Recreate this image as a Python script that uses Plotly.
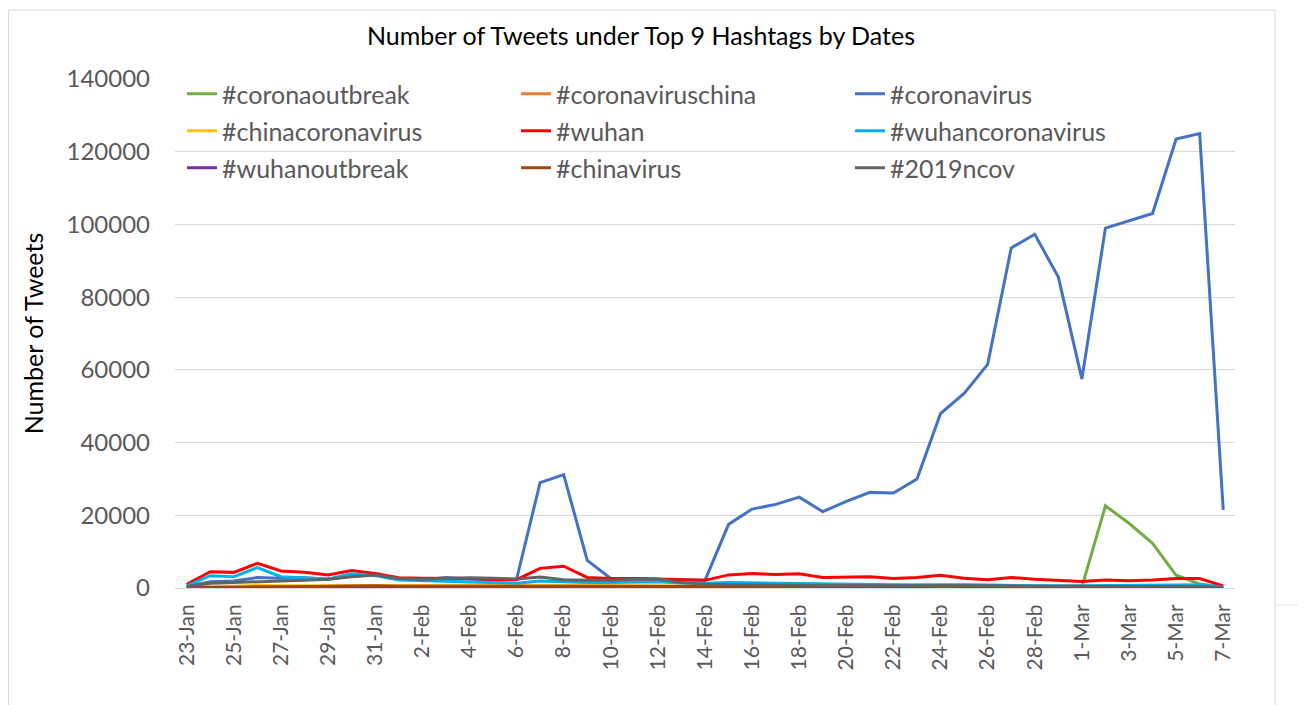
import pandas as pd
import plotly.graph_objects as go

# Dates (categories)
dates = pd.date_range("2020-01-23", "2020-03-07", freq="D")
date_labels = [f"{d.day}-{d.strftime('%b')}" for d in dates]

coronaoutbreak = [0, 0, 0, 0, 0, 0, 0, 0, 0, 0,
                  0, 0, 0, 0, 0, 0, 0, 0, 0, 0,
                  0, 0, 0, 0, 0, 0, 0, 0, 0, 0,
                  0, 0, 0, 0, 0, 0, 0, 0,
                  300, 22600, 17800, 12300, 3500, 1100, 300]
coronaviruschina = [100, 300, 300, 400, 300, 300, 200, 300, 300, 200,
                    200, 200, 200, 150, 150, 200, 200, 150, 150, 150,
                    150, 100, 100, 100, 100, 100, 100, 100, 100, 100,
                    100, 100, 100, 100, 100, 100, 100, 100, 100, 100,
                    100, 100, 100, 100, 50]
coronavirus = [400, 1700, 1900, 2900, 2700, 2800, 2400, 3300, 3600, 2400,
               2200, 2900, 2500, 2200, 2400, 29000, 31200, 7600, 2600, 2600,
               2400, 2300, 2100, 17500, 21700, 23000, 25000, 21000, 23800, 26300,
               26100, 30000, 48000, 53500, 61500, 93500, 97300, 85500, 57500, 99000,
               101000, 103000, 123500, 125000, 21500]
chinacoronavirus = [200, 500, 500, 700, 600, 600, 500, 700, 700, 600,
                    600, 700, 800, 800, 800, 900, 800, 700, 700, 600,
                    600, 500, 500, 400, 400, 400, 300, 300, 300, 300,
                    300, 300, 300, 300, 300, 200, 200, 200, 200, 200,
                    200, 200, 200, 200, 100]
wuhan = [1000, 4500, 4300, 6800, 4700, 4300, 3600, 4800, 4000, 2800,
         2700, 2700, 2600, 2300, 2300, 5400, 6000, 2900, 2600, 2600,
         2500, 2400, 2100, 3600, 4000, 3700, 3900, 2900, 3100, 3100,
         2600, 2900, 3500, 2700, 2300, 2900, 2400, 2000, 1800, 2200,
         2000, 2200, 2600, 2600, 600]
wuhancoronavirus = [600, 3400, 3100, 5600, 3100, 2700, 2500, 3900, 3400, 2200,
                    2000, 1900, 1700, 1300, 1300, 1900, 1600, 1500, 1500, 1600,
                    1700, 1400, 1300, 1500, 1400, 1200, 1100, 1100, 1000, 1000,
                    900, 900, 1000, 900, 800, 700, 700, 600, 600, 600,
                    600, 700, 800, 900, 300]
wuhanoutbreak = [100, 200, 200, 300, 300, 300, 300, 300, 300, 300,
                 300, 300, 300, 300, 300, 300, 300, 300, 300, 300,
                 300, 200, 200, 200, 200, 200, 200, 200, 200, 200,
                 200, 200, 200, 200, 200, 200, 200, 200, 200, 200,
                 200, 200, 200, 200, 100]
chinavirus = [0, 100, 100, 200, 300, 400, 500, 600, 600, 500,
              500, 500, 500, 500, 500, 500, 500, 400, 400, 400,
              400, 400, 400, 400, 400, 400, 300, 300, 300, 300,
              300, 300, 300, 300, 300, 300, 300, 300, 300, 300,
              300, 300, 300, 300, 100]
ncov2019 = [400, 1300, 1500, 1800, 1900, 2100, 2400, 3100, 3600, 2600,
            2400, 2600, 2800, 2700, 2500, 3000, 2300, 2100, 2100, 2400,
            2500, 1500, 1000, 900, 800, 800, 700, 700, 700, 600,
            600, 600, 700, 600, 500, 500, 500, 500, 400, 400,
            400, 400, 400, 400, 200]

series = [
    ("#coronaoutbreak", coronaoutbreak, "#70AD47", "legend"),
    ("#coronaviruschina", coronaviruschina, "#ED7D31", "legend"),
    ("#coronavirus", coronavirus, "#4472C4", "legend"),
    ("#chinacoronavirus", chinacoronavirus, "#FFC000", "legend2"),
    ("#wuhan", wuhan, "#FF0000", "legend2"),
    ("#wuhancoronavirus", wuhancoronavirus, "#00B0F0", "legend2"),
    ("#wuhanoutbreak", wuhanoutbreak, "#7030A0", "legend3"),
    ("#chinavirus", chinavirus, "#9E480E", "legend3"),
    ("#2019ncov", ncov2019, "#636363", "legend3"),
]

FONT = "Lato, 'Open Sans', sans-serif"
fig = go.Figure()
for name, vals, color, lg in series:
    fig.add_trace(go.Scatter(
        x=date_labels, y=vals, name=name, mode="lines",
        line=dict(color=color, width=3), legend=lg,
    ))

# the page body has an 8px margin: work in page pixels, convert to figure pixels
OFF = 8
W, H = 1306 - OFF, 705 - OFF
L, R, T, B = 175 - OFF, 1235 - OFF, 79 - OFF, 588 - OFF
pw, ph = R - L, B - T

def px(x):
    return (x - OFF - L) / pw

def py(y):
    return (B - (y - OFF)) / ph

leg_common = dict(orientation="h", xanchor="left", yanchor="middle",
                  bgcolor="rgba(0,0,0,0)", font=dict(family=FONT, size=25, color="#595959"),
                  entrywidth=289, entrywidthmode="pixels", itemwidth=30, traceorder="normal")

fig.update_layout(
    width=W, height=H,
    margin=dict(l=L, r=W - R, t=T, b=H - B),
    paper_bgcolor="white", plot_bgcolor="white",
    font=dict(family=FONT, color="#595959"),
    title=dict(text="Number of Tweets under Top 9 Hashtags by Dates",
               x=(641 - OFF) / W, xref="container", xanchor="center",
               y=1 - (36 - OFF) / H, yref="container", yanchor="middle",
               font=dict(family=FONT, size=25, color="black")),
    legend=dict(x=px(182), y=py(94), **leg_common),
    legend2=dict(x=px(182), y=py(131), **leg_common),
    legend3=dict(x=px(182), y=py(168), **leg_common),
    showlegend=True,
    xaxis=dict(
        type="category", range=[-0.5, len(date_labels) - 0.5],
        tickmode="array", tickvals=date_labels[::2], ticktext=date_labels[::2],
        tickangle=-90, tickfont=dict(family=FONT, size=21, color="#595959"),
        showgrid=False, showline=True, linecolor="#D9D9D9", linewidth=1,
        ticks="", ticklabelstandoff=7, zeroline=False,
    ),
    yaxis=dict(
        range=[0, 140000], dtick=20000, tickformat="d",
        tickfont=dict(family=FONT, size=24, color="#595959"),
        showgrid=True, gridcolor="#D9D9D9", gridwidth=1, zeroline=False,
        ticklabelstandoff=24,
        title=dict(text="Number of Tweets", font=dict(family=FONT, size=25, color="black"),
                   standoff=15),
    ),
)

# chart frame
fig.add_shape(type="rect", xref="paper", yref="paper",
              x0=px(8.5), x1=px(1275), y0=py(712), y1=py(10),
              line=dict(color="#D9D9D9", width=1), layer="below")
fig.add_shape(type="line", xref="paper", yref="paper",
              x0=px(1275), x1=px(1306), y0=py(605), y1=py(605),
              line=dict(color="#E6E6E6", width=1), layer="below")

fig.write_html("out.html")
